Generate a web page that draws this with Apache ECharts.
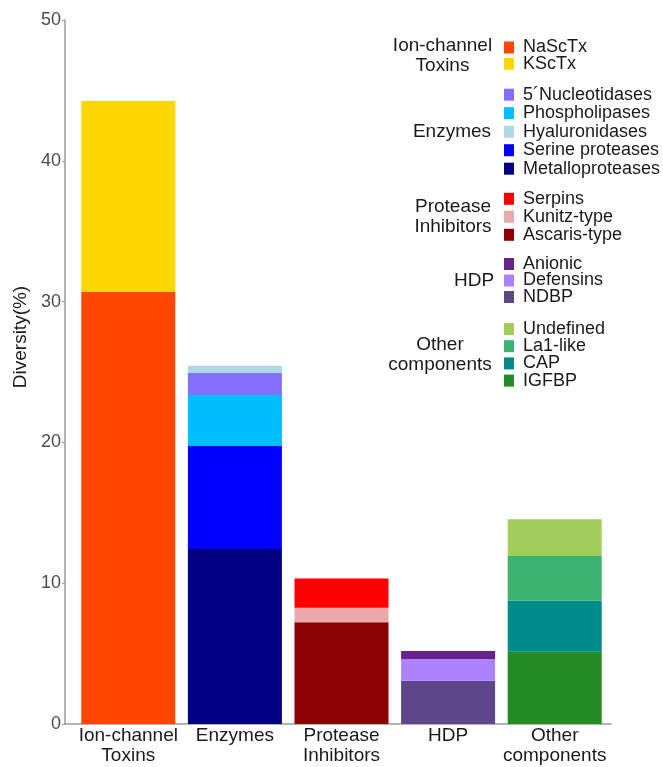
<!DOCTYPE html>
<html>
<head>
<meta charset="utf-8">
<script src="https://cdn.jsdelivr.net/npm/echarts@6/dist/echarts.min.js"></script>
<style>
  html, body { margin: 0; padding: 0; background: #fff; }
  #main { width: 663px; height: 767px; }
</style>
</head>
<body>
<div id="main"></div>
<script>
// categories on the x axis
var categories = ['Ion-channel\nToxins', 'Enzymes', 'Protease\nInhibitors', 'HDP', 'Other\ncomponents'];

// segments, bottom -> top of each stack
var ionNames = ['NaScTx', 'KScTx'];
var ionValues = [30.7, 13.55];
var enzymeNames = ['Metalloproteases', 'Serine proteases', 'Phospholipases', '5´Nucleotidases', 'Hyaluronidases'];
var enzymeValues = [12.43, 7.31, 3.63, 1.58, 0.5];
var inhibitorNames = ['Ascaris-type', 'Kunitz-type', 'Serpins'];
var inhibitorValues = [7.22, 1.04, 2.08];
var hdpNames = ['NDBP', 'Defensins', 'Anionic'];
var hdpValues = [3.08, 1.54, 0.56];
var otherNames = ['IGFBP', 'CAP', 'La1-like', 'Undefined'];
var otherValues = [5.14, 3.62, 3.17, 2.61];

// legend order, top -> bottom
var ionLegend = ['NaScTx', 'KScTx'];
var enzymeLegend = ['5´Nucleotidases', 'Phospholipases', 'Hyaluronidases', 'Serine proteases', 'Metalloproteases'];
var inhibitorLegend = ['Serpins', 'Kunitz-type', 'Ascaris-type'];
var hdpLegend = ['Anionic', 'Defensins', 'NDBP'];
var otherLegend = ['Undefined', 'La1-like', 'CAP', 'IGFBP'];

var yMin = 0, yMax = 50, yStep = 10;

var colors = {
  'NaScTx': '#FF4500', 'KScTx': '#FFD700',
  '5´Nucleotidases': '#8470FF', 'Phospholipases': '#00BFFF', 'Hyaluronidases': '#ADD8E6',
  'Serine proteases': '#0000FF', 'Metalloproteases': '#000080',
  'Serpins': '#FF0000', 'Kunitz-type': '#EBA9A9', 'Ascaris-type': '#8B0000',
  'Anionic': '#68228B', 'Defensins': '#AB82FF', 'NDBP': '#5D478B',
  'Undefined': '#A2CD5A', 'La1-like': '#3CB371', 'CAP': '#008B8B', 'IGFBP': '#228B22'
};

var font = '"Liberation Sans", Arial, sans-serif';
var groups = [
  { names: ionNames, values: ionValues },
  { names: enzymeNames, values: enzymeValues },
  { names: inhibitorNames, values: inhibitorValues },
  { names: hdpNames, values: hdpValues },
  { names: otherNames, values: otherValues }
];

var series = [];
groups.forEach(function (g, gi) {
  g.names.forEach(function (name, i) {
    var data = categories.map(function (c, ci) { return ci === gi ? g.values[i] : '-'; });
    series.push({
      name: name,
      type: 'bar',
      stack: 'total',
      barWidth: 94,
      xAxisIndex: 0,
      yAxisIndex: 0,
      itemStyle: { color: colors[name] },
      emphasis: { disabled: true },
      data: data
    });
  });
});

function legendAt(data, top, gap) {
  return {
    data: data,
    orient: 'vertical',
    left: 504,
    top: top,
    padding: 0,
    itemGap: gap,
    itemWidth: 10,
    itemHeight: 12,
    icon: 'rect',
    selectedMode: false,
    textStyle: { fontFamily: font, fontSize: 18, color: '#1a1a1a', padding: [0, 0, 0, 4] }
  };
}

function groupTitle(text, x, y) {
  return {
    type: 'text', x: x, y: y,
    style: {
      text: text, fill: '#1a1a1a', font: '19px ' + font,
      align: 'center', verticalAlign: 'middle', lineHeight: 20
    }
  };
}

var axisColor = '#9a9a9a';
var chart = echarts.init(document.getElementById('main'));
chart.setOption({
  animation: false,
  grid: [
    { left: 75, right: 55, top: 20, bottom: 43 },
    // full-width frame that only carries the x axis line
    { left: 65, right: 52, top: 20, bottom: 43 }
  ],
  xAxis: [{
    type: 'category',
    gridIndex: 0,
    data: categories,
    axisLine: { show: false },
    axisTick: { show: false },
    axisLabel: { fontFamily: font, fontSize: 19, color: '#1a1a1a', lineHeight: 20, margin: 2, interval: 0 }
  }, {
    type: 'value',
    gridIndex: 1,
    min: 0, max: 1,
    splitLine: { show: false },
    axisLine: { show: true, lineStyle: { color: axisColor, width: 1.5 } },
    axisTick: { show: false },
    axisLabel: { show: false }
  }],
  yAxis: [{
    type: 'value',
    gridIndex: 0,
    min: yMin, max: yMax, interval: yStep,
    offset: 10,
    name: 'Diversity(%)',
    nameLocation: 'middle',
    nameGap: 32,
    nameTextStyle: { fontFamily: font, fontSize: 19, color: '#1a1a1a', padding: [0, 0, 0, 70] },
    splitLine: { show: false },
    axisLine: { show: true, lineStyle: { color: axisColor, width: 1.5 } },
    axisTick: { show: true, length: 3, lineStyle: { color: axisColor } },
    axisLabel: { fontFamily: font, fontSize: 18, color: '#4d4d4d', margin: 4 }
  }, {
    type: 'value',
    gridIndex: 1,
    show: false
  }],
  legend: [
    legendAt(ionLegend, 38.5, -1.8),
    legendAt(enzymeLegend, 85.7, 0.5),
    legendAt(inhibitorLegend, 189.8, 0),
    legendAt(hdpLegend, 255, -1.5),
    legendAt(otherLegend, 320, -0.8)
  ],
  graphic: [
    groupTitle('Ion-channel\nToxins', 442.5, 55.5),
    groupTitle('Enzymes', 452, 132),
    groupTitle('Protease\nInhibitors', 453, 217),
    groupTitle('HDP', 474, 280.5),
    groupTitle('Other\ncomponents', 440, 354.5)
  ],
  series: series
});
</script>
</body>
</html>
